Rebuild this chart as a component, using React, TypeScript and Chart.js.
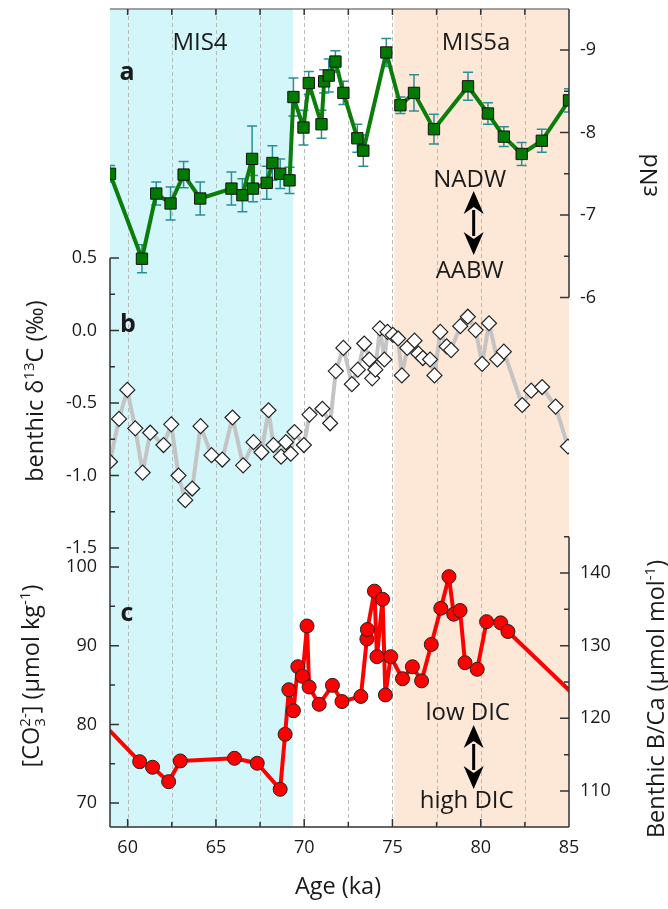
import { useEffect, useRef } from "react";
import { Chart, registerables } from "chart.js";

Chart.register(...registerables);

const FONT = '"Open Sans", "DejaVu Sans", sans-serif';
const INK = "#1a1a1a";

// age axis
const ageTicks = [60, 65, 70, 75, 80, 85];
const ageMinorTicks = [62.5, 67.5, 72.5, 77.5, 82.5];
const gridAges = [60, 62.5, 65, 67.5, 70, 72.5, 75, 77.5, 80, 82.5];

// marine isotope stages
const stageNames = ["MIS4", "MIS5a"];
const stageStart = [59, 75.1];
const stageEnd = [69.37, 85];
const stageColors = ["#d3f6fb", "#fde8d8"];

// (a) eNd
const ndAge = [
  59.0, 60.81, 61.62, 62.43, 63.17, 64.11, 65.88, 66.5, 67.05, 67.1, 67.88, 68.2, 68.64, 69.17,
  69.39, 69.96, 70.26, 70.98, 71.13, 71.39, 71.77, 72.22, 73.01, 73.35, 74.65, 75.45, 76.22,
  77.35, 79.28, 80.41, 81.31, 82.32, 83.46, 85.0,
];
const ndValue = [
  -7.5, -6.47, -7.26, -7.14, -7.49, -7.2, -7.32, -7.24, -7.68, -7.32, -7.39, -7.63, -7.5, -7.42,
  -8.43, -8.06, -8.6, -8.1, -8.62, -8.69, -8.86, -8.48, -7.93, -7.78, -8.97, -8.33, -8.48,
  -8.04, -8.56, -8.23, -7.95, -7.74, -7.9, -8.39,
];
const ndError = [
  0.1, 0.17, 0.14, 0.2, 0.16, 0.2, 0.2, 0.2, 0.4, 0.16, 0.2, 0.21, 0.18, 0.16, 0.23, 0.21, 0.14,
  0.17, 0.14, 0.2, 0.13, 0.14, 0.17, 0.19, 0.17, 0.1, 0.22, 0.18, 0.17, 0.13, 0.12, 0.14, 0.14,
  0.14,
];
const ndTicks = [-9, -8, -7, -6];
const ndMinorTicks = [-8.5, -7.5, -6.5];

// (b) benthic d13C
const d13cAge = [
  59.0, 59.51, 59.98, 60.43, 60.85, 61.28, 62.03, 62.47, 62.88, 63.26, 63.66, 64.13, 64.75,
  65.36, 65.94, 66.54, 67.13, 67.58, 67.98, 68.26, 68.69, 68.96, 69.24, 69.45, 69.98, 70.3,
  71.03, 71.47, 71.79, 72.22, 72.7, 73.04, 73.4, 73.69, 73.85, 74.03, 74.29, 74.54, 74.72,
  75.02, 75.32, 75.53, 75.84, 76.25, 76.47, 76.72, 77.13, 77.38, 77.71, 78.07, 78.32, 78.84,
  79.27, 79.71, 80.08, 80.47, 80.94, 81.31, 82.35, 82.86, 83.48, 84.24, 84.94,
];
const d13cValue = [
  -0.905, -0.61, -0.41, -0.675, -0.98, -0.705, -0.79, -0.647, -1.0, -1.17, -1.09, -0.66, -0.86,
  -0.89, -0.6, -0.93, -0.77, -0.84, -0.55, -0.79, -0.87, -0.77, -0.85, -0.7, -0.79, -0.58,
  -0.54, -0.64, -0.28, -0.12, -0.37, -0.27, -0.09, -0.2, -0.33, -0.27, 0.015, -0.2, -0.01,
  -0.03, -0.055, -0.31, -0.12, -0.07, -0.16, -0.19, -0.2, -0.31, -0.01, -0.11, -0.135, 0.03,
  0.095, 0.003, -0.23, 0.05, -0.2, -0.146, -0.514, -0.415, -0.39, -0.525, -0.8,
];
const d13cTicks = [0.5, 0, -0.5, -1, -1.5];
const d13cMinorTicks = [0.25, -0.25, -0.75, -1.25];

// (c) carbonate ion / B/Ca
const co3Age = [
  58.3, 60.68, 61.41, 62.32, 62.98, 66.05, 67.34, 68.64, 68.92, 69.13, 69.39, 69.64, 69.9,
  70.16, 70.28, 70.85, 71.6, 72.14, 73.21, 73.55, 73.58, 73.98, 74.12, 74.44, 74.6, 74.9,
  75.57, 76.13, 76.65, 77.2, 77.74, 78.2, 78.47, 78.83, 79.11, 79.8, 80.33, 81.13, 81.54, 86.0,
];
const co3Value = [
  80.8, 75.26, 74.55, 72.72, 75.35, 75.69, 75.06, 71.75, 78.74, 84.4, 81.74, 87.33, 86.1, 92.5,
  84.75, 82.55, 84.96, 82.9, 83.55, 90.85, 92.05, 96.93, 88.6, 95.9, 83.74, 88.6, 85.8, 87.32,
  85.53, 90.15, 94.75, 98.77, 94.0, 94.47, 87.84, 87.0, 93.05, 92.9, 91.8, 82.2,
];
const co3Ticks = [70, 80, 90, 100];
const co3MinorTicks = [75, 85, 95];
const bcaTicks = [110, 120, 130, 140];
const bcaMinorTicks = [115, 125, 135, 145];

type Part = { t: string; sup?: string; sub?: string };

const drawRich = (ctx: any, parts: Part[], cx: number, cy: number, rot: number, size: number) => {
  const small = Math.round(size * 0.62);
  const main = `${size}px ${FONT}`;
  const minor = `${small}px ${FONT}`;
  const widths = parts.map((p) => {
    ctx.font = main;
    const w = ctx.measureText(p.t).width;
    ctx.font = minor;
    const ws = Math.max(
      p.sup ? ctx.measureText(p.sup).width : 0,
      p.sub ? ctx.measureText(p.sub).width : 0
    );
    return [w, ws];
  });
  const total = widths.reduce((s, w) => s + w[0] + w[1], 0);
  ctx.save();
  ctx.translate(cx, cy);
  ctx.rotate(rot);
  ctx.fillStyle = INK;
  ctx.textBaseline = "alphabetic";
  ctx.textAlign = "left";
  const base = size * 0.36;
  let x = -total / 2;
  parts.forEach((p, i) => {
    ctx.font = main;
    ctx.fillText(p.t, x, base);
    x += widths[i][0];
    ctx.font = minor;
    if (p.sup) ctx.fillText(p.sup, x, base - size * 0.42);
    if (p.sub) ctx.fillText(p.sub, x, base + size * 0.22);
    x += widths[i][1];
  });
  ctx.restore();
};

const drawText = (ctx: any, text: string, x: number, y: number, font: string, align = "center") => {
  ctx.save();
  ctx.font = font;
  ctx.fillStyle = INK;
  ctx.textAlign = align;
  ctx.textBaseline = "middle";
  ctx.fillText(text, x, y);
  ctx.restore();
};

const drawDoubleArrow = (ctx: any, x: number, y1: number, y2: number) => {
  const head = 23;
  const half = 10;
  ctx.save();
  ctx.strokeStyle = "#000";
  ctx.fillStyle = "#000";
  ctx.lineWidth = 3;
  ctx.beginPath();
  ctx.moveTo(x, y1 + head - 4);
  ctx.lineTo(x, y2 - head + 4);
  ctx.stroke();
  ctx.beginPath();
  ctx.moveTo(x, y1);
  ctx.lineTo(x + half, y1 + head);
  ctx.lineTo(x, y1 + head - 7);
  ctx.lineTo(x - half, y1 + head);
  ctx.closePath();
  ctx.fill();
  ctx.beginPath();
  ctx.moveTo(x, y2);
  ctx.lineTo(x + half, y2 - head);
  ctx.lineTo(x, y2 - head + 7);
  ctx.lineTo(x - half, y2 - head);
  ctx.closePath();
  ctx.fill();
  ctx.restore();
};

const panelPlugin = {
  id: "panels",
  beforeDraw(chart: any) {
    const { ctx, chartArea: a, scales } = chart;
    ctx.save();
    ctx.fillStyle = "#ffffff";
    ctx.fillRect(0, 0, chart.width, chart.height);
    stageStart.forEach((s, i) => {
      const x1 = scales.x.getPixelForValue(s);
      const x2 = scales.x.getPixelForValue(stageEnd[i]);
      ctx.fillStyle = stageColors[i];
      ctx.fillRect(x1, a.top, x2 - x1, a.bottom - a.top);
    });
    ctx.restore();
  },
  beforeDatasetsDraw(chart: any) {
    const { ctx, chartArea: a, scales } = chart;
    ctx.save();
    ctx.strokeStyle = "#b9b9b9";
    ctx.lineWidth = 1;
    ctx.setLineDash([4, 3]);
    ctx.beginPath();
    gridAges.forEach((v) => {
      const x = Math.round(scales.x.getPixelForValue(v)) + 0.5;
      ctx.moveTo(x, a.top);
      ctx.lineTo(x, a.bottom);
    });
    ctx.stroke();
    ctx.setLineDash([]);
    // error bars for eNd
    ctx.beginPath();
    ctx.rect(a.left, a.top, a.right - a.left, a.bottom - a.top);
    ctx.clip();
    ctx.strokeStyle = "#2c8e93";
    ctx.lineWidth = 1.5;
    ctx.beginPath();
    ndAge.forEach((age, i) => {
      const x = scales.x.getPixelForValue(age);
      const y1 = scales.yNd.getPixelForValue(ndValue[i] - ndError[i]);
      const y2 = scales.yNd.getPixelForValue(ndValue[i] + ndError[i]);
      ctx.moveTo(x, y1);
      ctx.lineTo(x, y2);
      ctx.moveTo(x - 5, y1);
      ctx.lineTo(x + 5, y1);
      ctx.moveTo(x - 5, y2);
      ctx.lineTo(x + 5, y2);
    });
    ctx.stroke();
    ctx.restore();
  },
  afterDatasetsDraw(chart: any) {
    const { ctx, chartArea: a, scales } = chart;
    const { x: xs, yNd, yD13c, yCo3, yBca } = scales;
    ctx.save();
    ctx.lineWidth = 1.5;
    // top frame
    ctx.strokeStyle = "#808080";
    ctx.beginPath();
    ctx.moveTo(a.left, a.top);
    ctx.lineTo(a.right, a.top);
    ctx.stroke();
    ctx.strokeStyle = "#333";
    ctx.beginPath();
    // bottom axis
    ctx.moveTo(a.left, a.bottom);
    ctx.lineTo(a.right, a.bottom);
    // left axis
    ctx.moveTo(a.left, yD13c.getPixelForValue(d13cTicks[0]));
    ctx.lineTo(a.left, a.bottom);
    // right axes
    ctx.moveTo(a.right, a.top);
    ctx.lineTo(a.right, yNd.getPixelForValue(ndTicks[ndTicks.length - 1]));
    ctx.moveTo(a.right, yBca.getPixelForValue(bcaMinorTicks[bcaMinorTicks.length - 1]));
    ctx.lineTo(a.right, a.bottom);
    const yTicks = (scale: any, vals: number[], x0: number, dir: number, len: number) =>
      vals.forEach((v) => {
        const y = scale.getPixelForValue(v);
        ctx.moveTo(x0, y);
        ctx.lineTo(x0 + dir * len, y);
      });
    const xTicks = (vals: number[], y0: number, dir: number, len: number) =>
      vals.forEach((v) => {
        const x = xs.getPixelForValue(v);
        ctx.moveTo(x, y0);
        ctx.lineTo(x, y0 + dir * len);
      });
    yTicks(yD13c, d13cTicks, a.left, 1, 9);
    yTicks(yD13c, d13cMinorTicks, a.left, 1, 5);
    yTicks(yCo3, co3Ticks, a.left, 1, 9);
    yTicks(yCo3, co3MinorTicks, a.left, 1, 5);
    yTicks(yNd, ndTicks, a.right, -1, 9);
    yTicks(yNd, ndMinorTicks, a.right, -1, 5);
    yTicks(yBca, bcaTicks, a.right, -1, 9);
    yTicks(yBca, bcaMinorTicks, a.right, -1, 5);
    xTicks(ageTicks, a.bottom, -1, 8);
    xTicks(ageMinorTicks, a.bottom, -1, 5);
    xTicks(ageTicks, a.top, 1, 6);
    xTicks(ageMinorTicks, a.top, 1, 6);
    ctx.stroke();
    ctx.restore();
  },
  afterDraw(chart: any) {
    const { ctx, chartArea: a, scales } = chart;
    const { x: xs, yNd, yD13c, yCo3, yBca } = scales;
    const tick = `18px ${FONT}`;
    // tick labels, placed through the scales
    d13cTicks.forEach((v) =>
      drawText(ctx, v.toFixed(1), a.left - 13, yD13c.getPixelForValue(v), tick, "right")
    );
    co3Ticks.forEach((v) =>
      drawText(ctx, String(v), a.left - 13, yCo3.getPixelForValue(v), tick, "right")
    );
    ndTicks.forEach((v) =>
      drawText(ctx, String(v), a.right + 11, yNd.getPixelForValue(v), tick, "left")
    );
    bcaTicks.forEach((v) =>
      drawText(ctx, String(v), a.right + 11, yBca.getPixelForValue(v), tick, "left")
    );
    ageTicks.forEach((v) => drawText(ctx, String(v), xs.getPixelForValue(v), a.bottom + 21, tick));

    const bold = `bold 25px ${FONT}`;
    const label = `24px ${FONT}`;
    drawText(ctx, "a", 127, 73, bold);
    drawText(ctx, "b", 128, 325, bold);
    drawText(ctx, "c", 127, 614, bold);
    drawText(ctx, stageNames[0], 200, 43, label);
    drawText(ctx, stageNames[1], 476, 43, label);
    const ax = xs.getPixelForValue(79.6);
    drawText(ctx, "NADW", ax - 4, 180, label);
    drawDoubleArrow(ctx, ax, 191, 255);
    drawText(ctx, "AABW", ax - 4, 271, label);
    drawText(ctx, "low DIC", ax - 6, 713, label);
    drawDoubleArrow(ctx, ax, 725, 789);
    drawText(ctx, "high DIC", ax - 7, 801, label);
    const ts = 23.5;
    drawRich(ctx, [{ t: "benthic δ", sup: "13" }, { t: "C (‰)" }], 35, 391, -Math.PI / 2, ts);
    drawRich(
      ctx,
      [{ t: "[CO", sup: "2-", sub: "3" }, { t: "] (µmol kg", sup: "-1" }, { t: ")" }],
      31,
      676,
      -Math.PI / 2,
      ts
    );
    drawRich(ctx, [{ t: "εNd" }], 649, 175, -Math.PI / 2, ts);
    drawRich(
      ctx,
      [{ t: "Benthic B/Ca (µmol mol", sup: "-1" }, { t: ")" }],
      656,
      699,
      -Math.PI / 2,
      ts
    );
    drawRich(ctx, [{ t: "Age (ka)" }], 338, 886, 0, ts);
  },
};

const hiddenAxis = {
  grid: { display: false, drawTicks: false },
  border: { display: false },
  ticks: { display: false },
};

const App = () => {
  const canvasRef = useRef<HTMLCanvasElement | null>(null);

  useEffect(() => {
    if (!canvasRef.current) return;
    const chart = new Chart(canvasRef.current, {
      type: "line",
      data: {
        datasets: [
          {
            label: "εNd",
            data: ndAge.map((x, i) => ({ x, y: ndValue[i] })),
            yAxisID: "yNd",
            borderColor: "#0a7d0a",
            borderWidth: 4,
            borderJoinStyle: "round",
            pointStyle: "rect",
            pointRadius: 8,
            pointBackgroundColor: "#007a00",
            pointBorderColor: "#111",
            pointBorderWidth: 1,
            tension: 0,
          },
          {
            label: "d13C",
            data: d13cAge.map((x, i) => ({ x, y: d13cValue[i] })),
            yAxisID: "yD13c",
            borderColor: "#c4c4c4",
            borderWidth: 4,
            borderJoinStyle: "round",
            pointStyle: "rectRot",
            pointRadius: 7.5,
            pointBackgroundColor: "#ffffff",
            pointBorderColor: "#222",
            pointBorderWidth: 1.2,
            tension: 0,
          },
          {
            label: "CO3",
            data: co3Age.map((x, i) => ({ x, y: co3Value[i] })),
            yAxisID: "yCo3",
            borderColor: "#ff0000",
            borderWidth: 4,
            borderJoinStyle: "round",
            pointStyle: "circle",
            pointRadius: 7,
            pointBackgroundColor: "#ff0000",
            pointBorderColor: "#222",
            pointBorderWidth: 1,
            tension: 0,
          },
        ],
      },
      options: {
        responsive: false,
        animation: false,
        events: [],
        layout: { padding: { left: 110, right: 99, top: 9, bottom: 82 } },
        plugins: { legend: { display: false }, tooltip: { enabled: false } },
        scales: {
          x: {
            type: "linear",
            position: "bottom",
            min: 59,
            max: 85,
            ...hiddenAxis,
            afterFit: (s: any) => {
              s.height = 0;
            },
          },
          yNd: {
            type: "linear",
            position: "right",
            reverse: true,
            min: -9.497,
            max: 0.418,
            ...hiddenAxis,
            afterFit: (s: any) => {
              s.width = 0;
            },
          },
          yBca: {
            type: "linear",
            position: "right",
            min: 105.05,
            max: 217.6,
            ...hiddenAxis,
            afterFit: (s: any) => {
              s.width = 0;
            },
          },
          yD13c: {
            type: "linear",
            position: "left",
            min: -3.424,
            max: 2.217,
            ...hiddenAxis,
            afterFit: (s: any) => {
              s.width = 0;
            },
          },
          yCo3: {
            type: "linear",
            position: "left",
            min: 66.96,
            max: 170.9,
            ...hiddenAxis,
            afterFit: (s: any) => {
              s.width = 0;
            },
          },
        },
      },
      plugins: [panelPlugin],
    } as any);

    return () => {
      chart.destroy();
    };
  }, []);

  return (
    <div style={{ position: "absolute", left: 0, top: 0, width: 668, height: 909, background: "#fff" }}>
      <canvas ref={canvasRef} width={668} height={909} style={{ display: "block" }} />
    </div>
  );
};

export default App;
